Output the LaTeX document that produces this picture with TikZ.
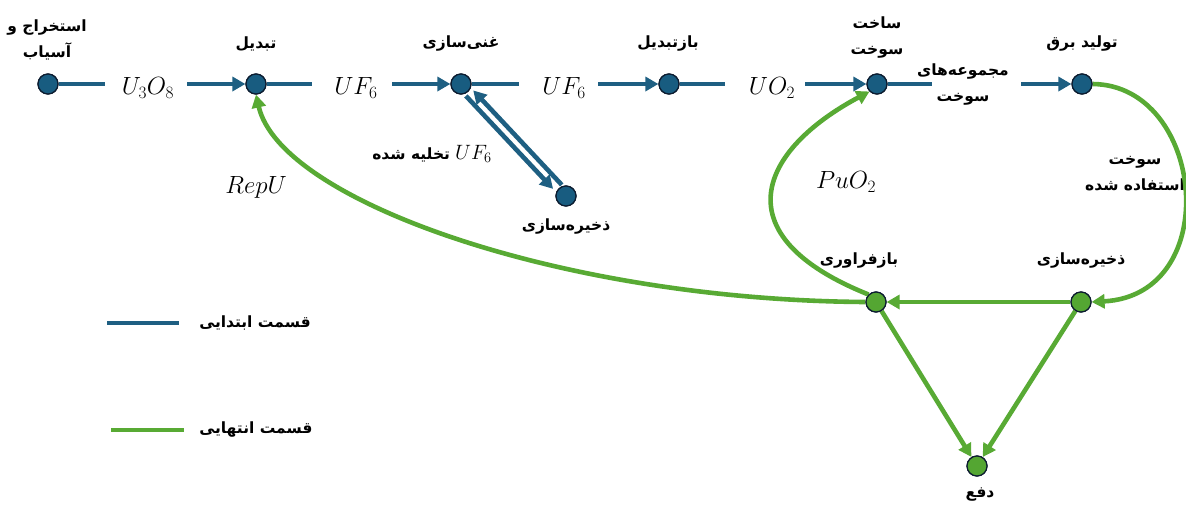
\documentclass[tikz,border=0pt]{standalone}
\usepackage{fontspec}
\usetikzlibrary{arrows.meta}
\TeXXeTstate=1
\newfontfamily\fa[Script=Arabic]{DejaVu Sans Bold}
\definecolor{lblue}{RGB}{30,95,130}
\definecolor{nblue}{RGB}{24,92,128}
\definecolor{lgreen}{RGB}{88,170,52}
\definecolor{ngreen}{RGB}{84,166,50}
\definecolor{navy}{RGB}{12,28,48}
\tikzset{
  bnode/.style={circle,minimum size=20pt,inner sep=0pt,fill=nblue,draw=navy,line width=1.2pt},
  gnode/.style={circle,minimum size=20pt,inner sep=0pt,fill=ngreen,draw=navy,line width=1.2pt},
  bline/.style={line width=4.6pt,draw=lblue},
  gline/.style={line width=4.6pt,draw=lgreen},
  arrb/.style={-{Triangle[length=13pt,width=14pt]}},
  lbl/.style={font=\fa\fontsize{15.5}{26}\selectfont,align=center,inner sep=0pt},
  mlbl/.style={font=\fontsize{27}{29}\selectfont,inner sep=0pt},
}
\begin{document}
\begin{tikzpicture}[x=1pt,y=-1pt]
\useasboundingbox (0,0) rectangle (1186,504);
% nodes
\node[bnode] (n1) at (48,84) {};
\node[bnode] (n2) at (256,84) {};
\node[bnode] (n3) at (461,84) {};
\node[bnode] (n4) at (566,196) {};
\node[bnode] (n5) at (669,84) {};
\node[bnode] (n6) at (877,84) {};
\node[bnode] (n7) at (1082,84) {};
\node[gnode] (g1) at (876,302) {};
\node[gnode] (g2) at (1081,302) {};
\node[gnode] (g3) at (977,466) {};
% labels
\node[lbl] (t1) at (47,40) {\beginR استخراج و\endR\\\beginR آسیاب\endR};
\node[lbl] (t2) at (256,44) {\beginR تبدیل\endR};
\node[lbl] (t3) at (461,44) {\beginR غنی‌سازی\endR};
\node[lbl] (t4) at (566,226) {\beginR ذخیره‌سازی\endR};
\node[lbl] (t5) at (668,44) {\beginR بازتبدیل\endR};
\node[lbl] (t6) at (877,38) {\beginR ساخت\endR\\\beginR سوخت\endR};
\node[lbl] (t7) at (1082,44) {\beginR تولید برق\endR};
\node[lbl] (t8) at (963,84) {\beginR مجموعه‌های\endR\\\beginR سوخت\endR};
\node[lbl] (t9) at (1135,174) {\beginR سوخت\endR\\\beginR استفاده شده\endR};
\node[lbl] (t10) at (859,260) {\beginR بازفراوری\endR};
\node[lbl] (t11) at (1081,260) {\beginR ذخیره‌سازی\endR};
\node[lbl] (t12) at (980,495) {\beginR دفع\endR};
\node[lbl] (t13) at (255,323) {\beginR قسمت ابتدایی\endR};
\node[lbl] (t14) at (256,429) {\beginR قسمت انتهایی\endR};
\node[lbl] (t15) at (432,154) {\beginR تخلیه شده\endR\hspace{5pt}{\fontsize{21}{23}\selectfont$UF_6$}};
% math labels
\node[mlbl] (m1) at (148,88) {$U_3O_8$};
\node[mlbl] (m2) at (356,88) {$UF_6$};
\node[mlbl] (m3) at (564,88) {$UF_6$};
\node[mlbl] (m4) at (772,88) {$UO_2$};
\node[mlbl] (m5) at (846,182) {$PuO_2$};
\node[mlbl] (m6) at (256,187) {$RepU$};
% coordinates for free ends
\coordinate (e1) at (105,84);
\coordinate (s2) at (187,84);
\coordinate (e2) at (312,84);
\coordinate (s3) at (392,84);
\coordinate (e3) at (519,84);
\coordinate (s5) at (598,84);
\coordinate (e5) at (725,84);
\coordinate (s6) at (805,84);
\coordinate (e6) at (932,84);
\coordinate (s7) at (1021,84);
\coordinate (d1s) at (465.9,95.9);
\coordinate (d1e) at (553.1,188.9);
\coordinate (d2s) at (561.8,184.9);
\coordinate (d2e) at (473.2,90.4);
\coordinate (lb1) at (107,323);
\coordinate (lb2) at (179,323);
\coordinate (lg1) at (111,430);
\coordinate (lg2) at (184,430);
% blue connectors
\draw[bline] (n1) -- (e1);
\draw[bline,arrb] (s2) -- (n2);
\draw[bline] (n2) -- (e2);
\draw[bline,arrb] (s3) -- (n3);
\draw[bline] (n3) -- (e3);
\draw[bline,arrb] (s5) -- (n5);
\draw[bline] (n5) -- (e5);
\draw[bline,arrb] (s6) -- (n6);
\draw[bline] (n6) -- (e6);
\draw[bline,arrb] (s7) -- (n7);
\draw[bline,arrb] (d1s) -- (d1e);
\draw[bline,arrb] (d2s) -- (d2e);
% green connectors
\draw[gline,arrb] (g1.west) .. controls (560,300) and (280,200) .. (n2.south);
\draw[gline,arrb] (g1.north west) .. controls (720,235) and (760,150) .. (n6.south west);
\draw[gline,arrb] (n7.east) .. controls (1205,85) and (1225,295) .. (g2.east);
\draw[gline,arrb] (g2) -- (g1);
\draw[gline,arrb] (g1) -- (g3);
\draw[gline,arrb] (g2) -- (g3);
% legend
\draw[bline] (lb1) -- (lb2);
\draw[gline] (lg1) -- (lg2);
% redraw nodes on top
\foreach \n in {n1,n2,n3,n4,n5,n6,n7}{\node[bnode] at (\n) {};}
\foreach \n in {g1,g2,g3}{\node[gnode] at (\n) {};}
\end{tikzpicture}
\end{document}
